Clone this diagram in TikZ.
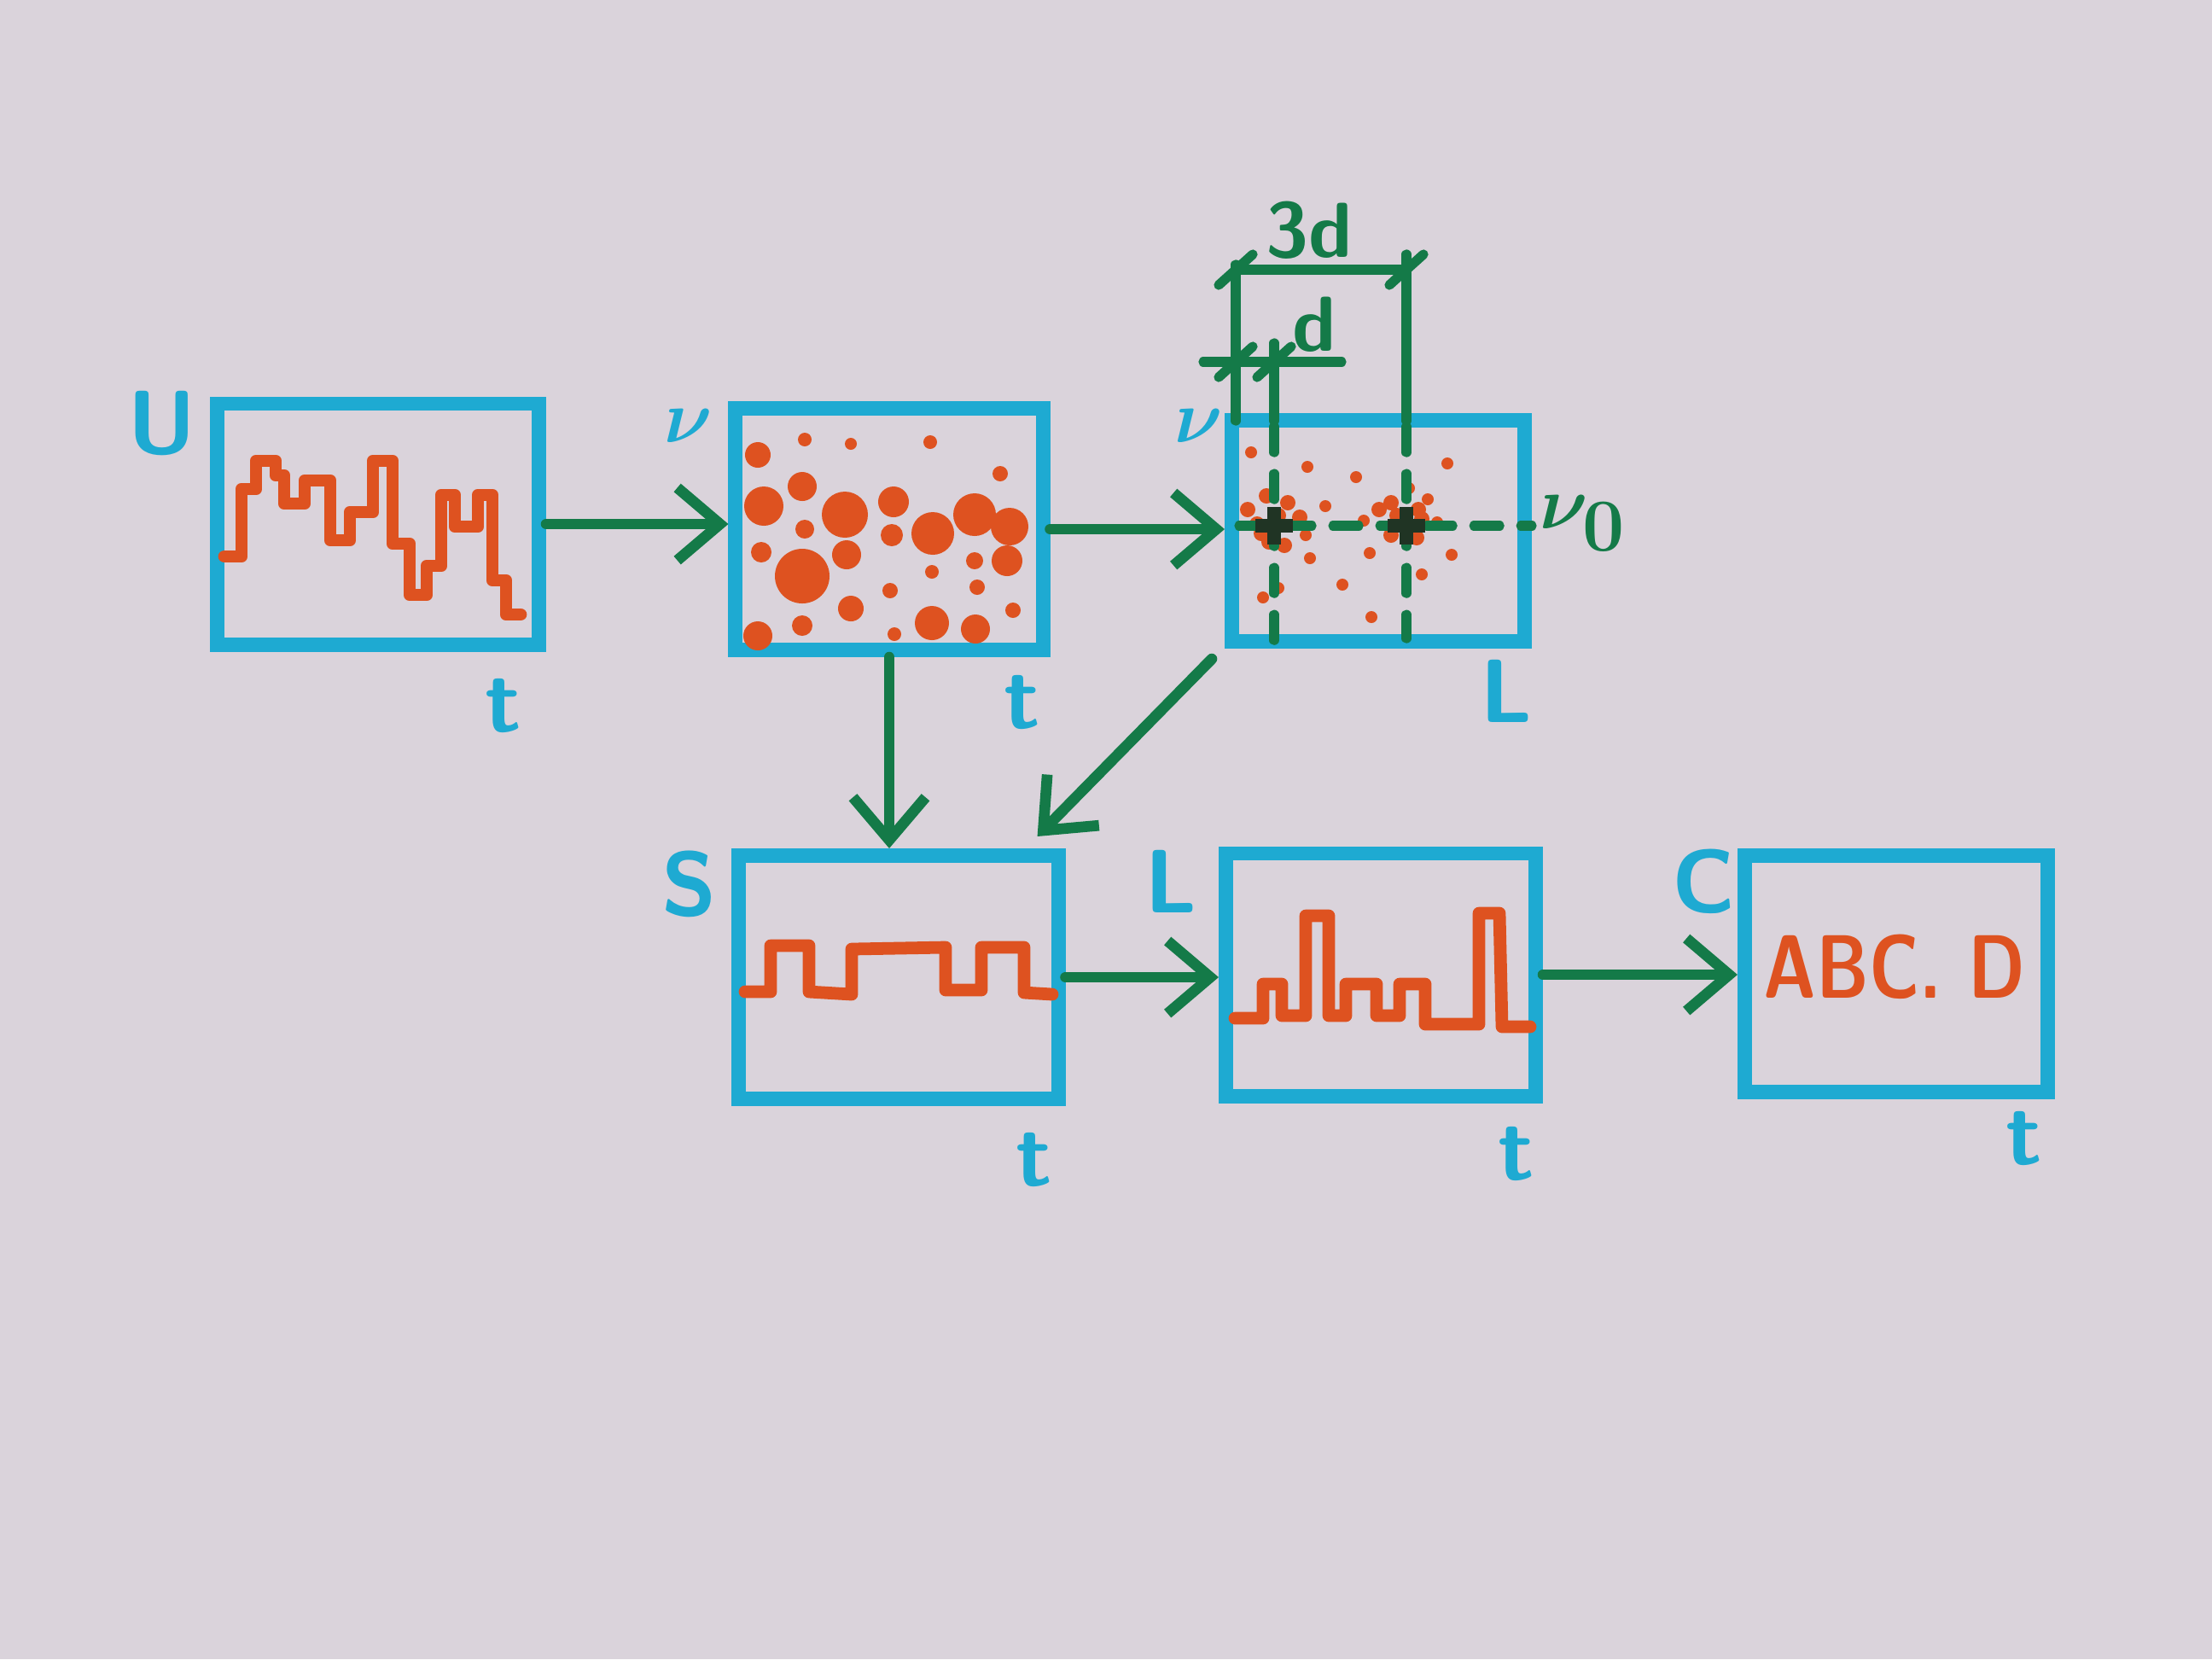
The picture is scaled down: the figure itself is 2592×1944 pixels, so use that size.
\documentclass[tikz,border=0pt]{standalone}
\usetikzlibrary{arrows.meta}
\definecolor{paper}{RGB}{218,211,219}
\definecolor{pen}{RGB}{30,170,210}
\definecolor{ink}{RGB}{222,82,32}
\definecolor{marker}{RGB}{20,122,72}
\definecolor{crossink}{RGB}{32,52,36}
\tikzset{
  box/.style={draw=pen, line width=4.8pt, inner sep=0pt},
  sig/.style={draw=ink, line width=4.2pt, line join=round, line cap=round},
  arr/.style={draw=marker, line width=3.6pt, line cap=round, line join=round,
    -{Straight Barb[length=0.5cm,width=0.85cm]}},
  dim/.style={draw=marker, line width=3.2pt, line cap=round},
  dimdash/.style={dim, dash pattern=on 0.3cm off 0.25cm},
  lbl/.style={text=pen, inner sep=0pt,
    font=\fontsize{30}{32}\selectfont\sffamily\bfseries\boldmath},
  glbl/.style={lbl, text=marker},
}
\begin{document}
\begin{tikzpicture}[x=0.01cm, y=-0.01cm]
\fill[paper] (0,0) rectangle (2592,1944);
\useasboundingbox (0,0) rectangle (2592,1944);

\node[box, minimum width=3.77cm, minimum height=2.82cm] (b1) at (443,614) {};
\node[box, minimum width=3.60cm, minimum height=2.83cm] (b2) at (1042,620) {};
\node[box, minimum width=3.43cm, minimum height=2.59cm] (b3) at (1615,622) {};
\node[box, minimum width=3.74cm, minimum height=2.85cm] (b4) at (1053,1145) {};
\node[box, minimum width=3.63cm, minimum height=2.84cm] (b5) at (1618,1142) {};
\node[box, minimum width=3.55cm, minimum height=2.77cm] (b6) at (2222,1141) {};

\node[lbl] (lu) at (190,496) {U};
\node[lbl] (lt1) at (590,827) {t};
\node[lbl, font=\fontsize{38}{40}\selectfont\boldmath] (lnu2) at (807,499) {$\nu$};
\node[lbl] (lt2) at (1198,823) {t};
\node[lbl, font=\fontsize{38}{40}\selectfont\boldmath] (lnu3) at (1405,499) {$\nu$};
\node[lbl] (ll3) at (1765,810) {L};
\node[glbl, font=\fontsize{38}{40}\selectfont\boldmath] (lnu0) at (1855,613) {$\nu_0$};
\node[lbl] (ls) at (808,1036) {S};
\node[lbl] (lt4) at (1212,1359) {t};
\node[lbl] (ll5) at (1372,1033) {L};
\node[lbl] (lt5) at (1777,1352) {t};
\node[lbl] (lc) at (1997,1033) {C};
\node[lbl] (lt6) at (2372,1334) {t};
\node[glbl, font=\fontsize{26}{28}\selectfont\sffamily\bfseries] (l3d) at (1534,270) {3d};
\node[glbl, font=\fontsize{26}{28}\selectfont\sffamily\bfseries] (ld) at (1540,380) {d};
\node[lbl, text=ink] (abc) at (2220,1133) {\scalebox{0.8}[1]{ABC. D}};

\draw[sig] (263,652) -- (283,652) -- (283,573) -- (300,573) -- (300,540) -- (323,540)
  -- (323,557) -- (333,557) -- (333,590) -- (357,590) -- (357,563) -- (387,563)
  -- (387,633) -- (410,633) -- (410,600) -- (437,600) -- (437,540) -- (460,540)
  -- (460,637) -- (480,637) -- (480,697) -- (500,697) -- (500,663) -- (517,663)
  -- (517,580) -- (533,580) -- (533,617) -- (560,617) -- (560,580) -- (577,580)
  -- (577,680) -- (593,680) -- (593,720) -- (610,720);

\foreach \x/\y/\r in {888/533/15, 943/515/8, 997/520/7, 1090/518/8, 1172/555/9,
  940/570/17, 895/593/23, 990/603/27, 1047/588/18, 943/620/11, 1045/627/13,
  1093/625/25, 1142/603/25, 1183/617/22, 892/647/12, 992/650/17, 940/675/32,
  1142/657/10, 1180/657/18, 1092/670/8, 1043/692/9, 1145/688/9, 997/713/15,
  940/733/12, 1092/730/20, 1143/737/17, 1187/715/9, 888/745/17, 1048/743/8}
  \fill[ink] (\x,\y) circle (\r);

\foreach \x/\y in {1466/530, 1532/547, 1589/559, 1696/543, 1553/593, 1530/627,
  1598/610, 1535/654, 1605/648, 1701/650, 1666/673, 1573/685, 1498/689, 1480/700,
  1607/723, 1651/572, 1673/585, 1684/612}
  \fill[ink] (\x,\y) circle (7);
\foreach \x/\y in {1462/597, 1484/581, 1509/589, 1523/606, 1473/614, 1498/604,
  1487/635, 1505/639, 1478/625, 1616/597, 1630/589, 1662/597, 1666/608, 1630/627,
  1651/624, 1637/604, 1660/630}
  \fill[ink] (\x,\y) circle (9);

\draw[dim] (1448,310) -- (1448,493);
\draw[dim] (1648,298) -- (1648,493);
\draw[dim] (1493,402) -- (1493,493);
\draw[dim] (1448,316) -- (1648,316);
\draw[dim] (1410,424) -- (1572,424);
\foreach \x/\y in {1448/316, 1648/316, 1448/424, 1493/424}
  \draw[dim] (\x-20,\y+18) -- (\x+20,\y-18);
\draw[dimdash] (1493,500) -- (1493,765);
\draw[dimdash] (1648,500) -- (1648,748);
\draw[dimdash] (1452,616) -- (1795,616);
\foreach \x in {1493,1648} {
  \draw[draw=crossink, line width=4.5pt] (\x-22,616) -- (\x+22,616);
  \draw[draw=crossink, line width=4.5pt] (\x,594) -- (\x,638);
}

\draw[sig] (873,1162) -- (903,1162) -- (903,1108) -- (948,1108) -- (948,1162)
  -- (998,1165) -- (998,1112) -- (1108,1110) -- (1108,1160) -- (1150,1160)
  -- (1150,1110) -- (1200,1110) -- (1200,1163) -- (1233,1165);

\draw[sig] (1447,1193) -- (1480,1193) -- (1480,1153) -- (1502,1153) -- (1502,1190)
  -- (1530,1190) -- (1530,1073) -- (1557,1073) -- (1557,1190) -- (1577,1190)
  -- (1577,1153) -- (1613,1153) -- (1613,1190) -- (1640,1190) -- (1640,1153)
  -- (1670,1153) -- (1670,1200) -- (1733,1200) -- (1733,1070) -- (1757,1070)
  -- (1760,1203) -- (1793,1203);

\draw[arr] (b1.east) -- (b1.east -| b2.west);
\draw[arr] (b2.east) -- (b2.east -| b3.west);
\draw[arr] (b2.south) -- (b2.south |- b4.north);
\draw[arr] ([shift={(-15,12)}]b3.south west) -- ([shift={(-33,-14)}]b4.north east);
\draw[arr] (b4.east) -- (b4.east -| b5.west);
\draw[arr] (b5.east) -- (b5.east -| b6.west);
\end{tikzpicture}
\end{document}
